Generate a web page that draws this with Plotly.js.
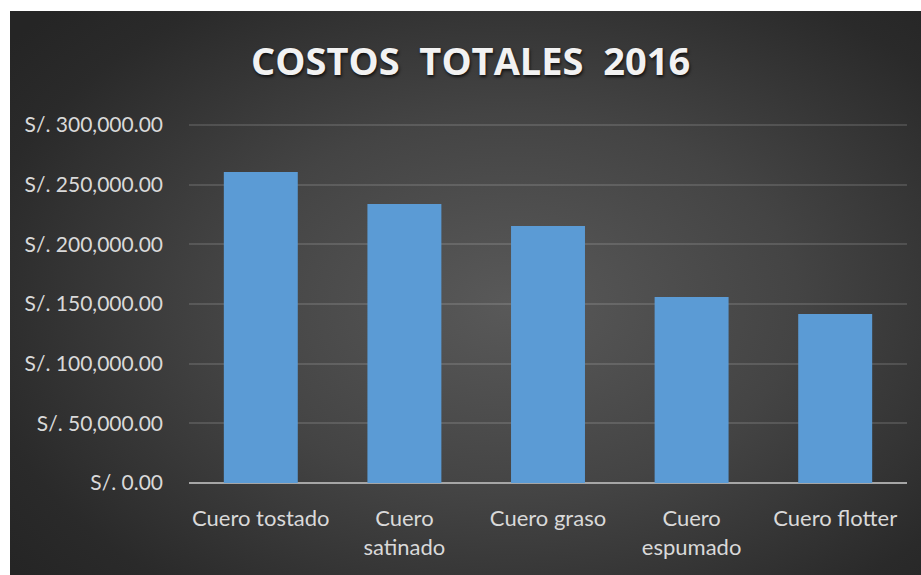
<!DOCTYPE html>
<html>
<head>
<meta charset="utf-8">
<script src="https://cdn.plot.ly/plotly-3.0.1.min.js"></script>
<style>
  html, body { margin:0; padding:0; background:#ffffff; }
  #bg { position:absolute; left:10px; top:11px; width:911px; height:564px;
        background: radial-gradient(ellipse 70% 75% at 55% 52%, #595959 0%, #444444 45%, #2a2a2a 85%, #252525 100%); }
  #chart { position:absolute; left:0; top:0; width:921px; height:575px; }
</style>
</head>
<body>
<div id="bg"></div>
<div id="chart"></div>
<script>
const categories = ["Cuero tostado", "Cuero<br>satinado", "Cuero graso", "Cuero<br>espumado", "Cuero flotter"];
const costs = [260600, 233800, 215400, 155900, 141600];
const tickValues = [0, 50000, 100000, 150000, 200000, 250000, 300000];
const tickLabels = ["S/. 0.00", "S/. 50,000.00", "S/. 100,000.00", "S/. 150,000.00", "S/. 200,000.00", "S/. 250,000.00", "S/. 300,000.00"];
const chartTitle = "COSTOS\u00a0\u00a0TOTALES\u00a0\u00a02016";

const fontFam = "Lato, 'Open Sans', sans-serif";

Plotly.newPlot("chart", [{
  type: "bar",
  x: categories,
  y: costs,
  marker: { color: "#5b9bd5", line: { width: 0 } },
  hoverinfo: "none"
}], {
  width: 921, height: 575,
  margin: { l: 189, r: 14, t: 123, b: 92 },
  paper_bgcolor: "rgba(0,0,0,0)",
  plot_bgcolor: "rgba(0,0,0,0)",
  bargap: 0.485,
  showlegend: false,
  title: {
    text: "<b>" + chartTitle + "</b>",
    x: 0.511, xanchor: "center",
    y: 0.892, yanchor: "middle",
    font: { family: "'Open Sans', sans-serif", size: 38, color: "#f2f2f2", shadow: "1px 2px 3px rgba(0,0,0,0.7)" }
  },
  xaxis: {
    tickfont: { family: fontFam, size: 22, color: "#d9d9d9" },
    showgrid: false,
    showline: false,
    ticks: "",
    ticklabelstandoff: 20,
    fixedrange: true
  },
  yaxis: {
    range: [0, 301680],
    tickvals: tickValues,
    ticktext: tickLabels,
    tickfont: { family: fontFam, size: 21, color: "#d9d9d9" },
    showgrid: true,
    gridcolor: "rgba(255,255,255,0.13)",
    gridwidth: 2,
    zeroline: true,
    zerolinecolor: "#a6a6a6",
    zerolinewidth: 2,
    ticks: "",
    ticklabelstandoff: 25,
    fixedrange: true
  }
}, { staticPlot: true, displayModeBar: false });
</script>
</body>
</html>
